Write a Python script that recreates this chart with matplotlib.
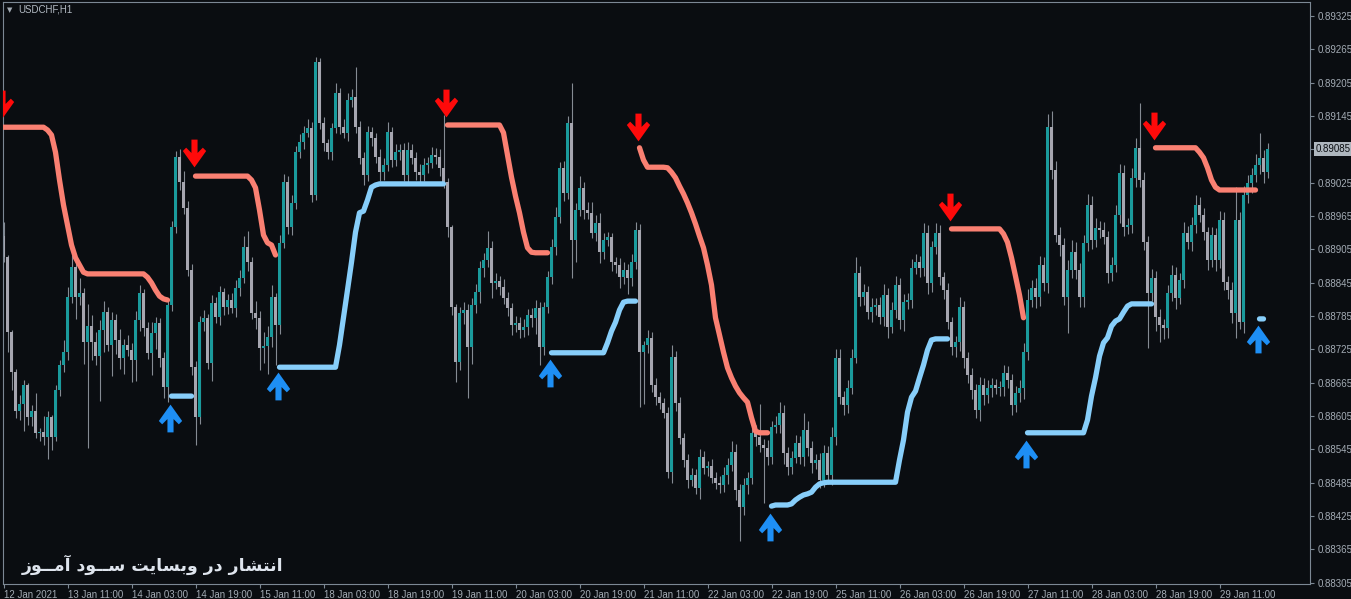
import numpy as np
import matplotlib
matplotlib.use("Agg")
import matplotlib.pyplot as plt
from matplotlib.path import Path
from matplotlib.transforms import blended_transform_factory

# prices are stored in points above 0.88000 (1 point = 0.00001)
BASE = 0.88
PT = 0.00001

open_first = 929
closes = [
    891, 756, 684, 614, 627, 661, 603, 614, 575, 576,
    567, 603, 567, 652, 697, 720, 819, 873, 819, 827,
    738, 767, 738, 713, 760, 792, 733, 778, 742, 710,
    733, 724, 706, 778, 827, 764, 719, 755, 773, 710,
    657, 805, 945, 1071, 1026, 980, 868, 693, 603, 774,
    782, 701, 809, 783, 828, 801, 814, 800, 836, 854,
    909, 882, 791, 782, 728, 731, 747, 819, 769, 917,
    1026, 945, 989, 1080, 1098, 1115, 1124, 1003, 1242, 1133,
    1097, 1080, 1124, 1187, 1125, 1115, 1174, 1179, 1125, 1070,
    1039, 1116, 1106, 1071, 1044, 1057, 1116, 1066, 1080, 1084,
    1039, 1084, 1070, 1044, 1039, 1057, 1061, 1075, 1071, 1052,
    1026, 945, 801, 702, 791, 796, 729, 805, 828, 872,
    886, 908, 845, 848, 837, 818, 800, 769, 773, 760,
    765, 787, 782, 800, 729, 801, 855, 909, 963, 1052,
    1007, 1133, 922, 976, 1016, 976, 971, 935, 953, 900,
    922, 927, 882, 877, 855, 868, 854, 882, 940, 720,
    733, 746, 661, 639, 629, 611, 504, 711, 629, 566,
    526, 490, 499, 476, 531, 512, 515, 494, 485, 481,
    499, 517, 540, 472, 441, 481, 494, 575, 567, 553,
    548, 531, 585, 589, 611, 539, 513, 530, 557, 531,
    580, 548, 521, 526, 490, 539, 499, 567, 710, 639,
    625, 656, 710, 863, 819, 828, 792, 801, 805, 783,
    823, 765, 796, 841, 778, 810, 814, 872, 882, 872,
    935, 845, 909, 935, 855, 832, 774, 729, 738, 801,
    710, 679, 652, 616, 661, 643, 656, 661, 656, 657,
    683, 670, 625, 647, 656, 720, 814, 836, 819, 877,
    845, 1125, 1048, 931, 913, 819, 868, 900, 868, 819,
    917, 985, 922, 944, 940, 927, 863, 877, 967, 1043,
    945, 949, 1034, 1088, 1030, 918, 827, 854, 783, 769,
    764, 827, 859, 818, 850, 935, 918, 949, 985, 967,
    936, 886, 931, 886, 958, 846, 832, 791, 958, 774,
    1003, 1025, 1039, 1057, 1070, 1044, 1085,
]
wick_up = [
    25, 4, 4, 6, 16, 9, 4, 11, 32, 7,
    30, 12, 4, 9, 9, 22, 18, 22, 14, 27,
    8, 40, 20, 18, 18, 20, 10, 14, 10, 20,
    10, 18, 12, 16, 14, 6, 10, 20, 10, 8,
    10, 10, 12, 12, 14, 20, 12, 10, 12, 12,
    14, 6, 14, 10, 12, 8, 10, 12, 14, 14,
    20, 30, 10, 22, 12, 26, 20, 22, 8, 14,
    14, 12, 14, 12, 14, 12, 16, 10, 9, 8,
    10, 6, 8, 18, 8, 14, 12, 14, 54, 12,
    10, 12, 10, 8, 14, 12, 18, 10, 14, 10,
    12, 14, 10, 10, 14, 12, 10, 14, 12, 14,
    95, 8, 4, 6, 10, 14, 10, 12, 14, 12,
    12, 30, 12, 14, 10, 14, 10, 8, 12, 10,
    14, 10, 12, 14, 10, 10, 12, 14, 18, 10,
    12, 12, 72, 12, 22, 10, 14, 20, 14, 18,
    12, 10, 8, 10, 12, 14, 10, 14, 15, 10,
    8, 14, 10, 12, 10, 8, 10, 22, 12, 10,
    8, 10, 12, 10, 14, 12, 10, 12, 10, 12,
    14, 12, 20, 14, 10, 12, 10, 18, 14, 60,
    10, 14, 12, 16, 20, 14, 10, 12, 14, 12,
    30, 16, 12, 10, 12, 14, 12, 18, 15, 16,
    12, 14, 16, 29, 12, 14, 12, 16, 12, 14,
    20, 12, 14, 16, 12, 14, 12, 16, 14, 12,
    18, 14, 12, 18, 14, 10, 12, 10, 12, 18,
    12, 10, 12, 10, 14, 12, 14, 12, 10, 12,
    14, 12, 10, 12, 14, 16, 20, 14, 18, 16,
    14, 23, 30, 16, 14, 12, 18, 22, 18, 12,
    14, 20, 16, 18, 12, 14, 12, 14, 18, 16,
    14, 12, 18, 18, 80, 14, 12, 16, 12, 14,
    10, 14, 18, 14, 12, 20, 12, 14, 18, 14,
    12, 10, 14, 12, 16, 14, 12, 14, 60, 14,
    16, 14, 12, 20, 45, 14, 12,
]
wick_dn = [
    9, 36, 32, 12, 16, 48, 14, 16, 10, 14,
    14, 40, 23, 6, 10, 12, 14, 10, 40, 14,
    40, 190, 32, 16, 80, 40, 10, 56, 26, 20,
    30, 10, 40, 38, 20, 14, 12, 40, 30, 16,
    20, 26, 10, 10, 14, 12, 10, 14, 50, 12,
    16, 12, 32, 10, 14, 14, 12, 10, 16, 14,
    10, 16, 12, 20, 40, 28, 50, 18, 72, 16,
    10, 12, 14, 12, 10, 12, 8, 12, 9, 12,
    14, 12, 14, 10, 12, 10, 14, 12, 10, 12,
    18, 10, 14, 10, 16, 14, 10, 12, 10, 14,
    10, 14, 12, 14, 12, 10, 14, 10, 12, 14,
    10, 18, 14, 36, 14, 20, 92, 30, 14, 20,
    16, 12, 28, 12, 14, 12, 14, 18, 12, 14,
    12, 14, 16, 30, 32, 14, 10, 12, 14, 10,
    14, 12, 68, 40, 10, 16, 12, 10, 14, 20,
    12, 10, 16, 14, 20, 12, 30, 14, 12, 99,
    94, 14, 12, 14, 12, 10, 10, 20, 14, 12,
    12, 14, 10, 12, 20, 12, 14, 10, 12, 14,
    12, 16, 10, 18, 60, 14, 16, 12, 16, 12,
    100, 14, 12, 10, 14, 20, 14, 12, 10, 12,
    16, 14, 18, 12, 14, 12, 16, 18, 14, 12,
    18, 14, 12, 10, 16, 14, 12, 18, 14, 12,
    16, 20, 10, 14, 16, 20, 12, 14, 12, 16,
    14, 20, 16, 12, 14, 16, 12, 14, 18, 16,
    18, 14, 16, 15, 20, 18, 14, 16, 12, 14,
    16, 14, 18, 12, 16, 20, 14, 12, 20, 16,
    14, 18, 16, 12, 20, 14, 65, 14, 16, 18,
    18, 14, 16, 12, 14, 12, 18, 14, 12, 14,
    16, 12, 14, 16, 12, 14, 100, 14, 24, 30,
    20, 18, 14, 20, 12, 14, 12, 16, 14, 12,
    14, 18, 12, 20, 14, 14, 16, 18, 45, 12,
    20, 14, 18, 12, 16, 20, 10,
]

# trailing stop lines: (first bar, values)
red_segments = [
    (0, [1125, 1125, 1125, 1125, 1125, 1125, 1125, 1125, 1125, 1125, 1125,
         1120, 1111, 1080, 1030, 985, 949, 913, 890, 877, 864, 861,
         861, 861, 861, 861, 861, 861, 861, 861, 861, 861, 861, 861, 861, 861,
         855, 845, 832, 821, 816, 814]),
    (48, [1037, 1037, 1037, 1037, 1037, 1037, 1037, 1037, 1037, 1037, 1037, 1037, 1037, 1037,
          1030, 1016, 976, 931, 917, 913, 895]),
    (111, [1129, 1129, 1129, 1129, 1129, 1129, 1129, 1129, 1129, 1129, 1129, 1129, 1129, 1129,
           1115, 1075, 1035, 1001, 971, 936, 908, 900, 899, 899, 899, 899]),
    (159, [1088, 1066, 1053, 1053, 1053, 1053, 1053, 1052, 1044, 1034, 1019, 1005, 989, 971,
           951, 929, 908, 877, 841, 782, 751, 720, 692, 674, 659, 647, 638, 630, 602, 578,
           575, 575, 575]),
    (237, [942, 942, 942, 942, 942, 942, 942, 942, 942, 942, 942, 942, 942,
           933, 918, 890, 857, 823, 782]),
    (288, [1088, 1088, 1088, 1088, 1088, 1088, 1088, 1088, 1088, 1088, 1088,
           1080, 1070, 1052, 1030, 1017,
           1012, 1012, 1012, 1012, 1012, 1012, 1012, 1012, 1012, 1012]),
]
blue_segments = [
    (42, [641, 641, 641, 641, 641, 641]),
    (69, [693, 693, 693, 693, 693, 693, 693, 693, 693, 693, 693, 693, 693, 693, 693,
          733, 782, 832, 882, 936, 971, 974, 994, 1017, 1021,
          1023, 1023, 1023, 1023, 1023, 1023, 1023, 1023, 1023, 1023, 1023, 1023, 1023,
          1023, 1023, 1023, 1023]),
    (137, [719, 719, 719, 719, 719, 719, 719, 719, 719, 719, 719, 719, 719, 719,
           737, 758, 774, 796, 810, 812, 812, 812]),
    (192, [443, 445, 445, 445, 445, 447, 454, 459, 463, 465, 468, 477, 483, 485,
           486, 486, 486, 486, 486, 486, 486, 486, 486, 486, 486, 486, 486, 486, 486,
           486, 486, 486,
           526, 562, 612, 639, 650, 674, 697, 724, 742, 744, 744, 744, 744]),
    (256, [575, 575, 575, 575, 575, 575, 575, 575, 575, 575, 575, 575, 575, 575, 575,
           598, 641, 674, 713, 737, 746, 767, 776, 780, 792, 803, 807,
           807, 807, 807, 807, 807]),
    (314, [780, 780]),
]

sell_bars = [0, 48, 111, 159, 237, 288]
sell_levels = [1167, 1079, 1169, 1125, 981, 1127]
buy_bars = [42, 69, 137, 192, 256, 314]
buy_levels = [602, 659, 683, 405, 537, 744]

tick_bars = list(range(0, 305, 16))
tick_labels = ["12 Jan 2021", "13 Jan 11:00", "14 Jan 03:00", "14 Jan 19:00", "15 Jan 11:00",
               "18 Jan 03:00", "18 Jan 19:00", "19 Jan 11:00", "20 Jan 03:00", "20 Jan 19:00",
               "21 Jan 11:00", "22 Jan 03:00", "22 Jan 19:00", "25 Jan 11:00", "26 Jan 03:00",
               "26 Jan 19:00", "27 Jan 11:00", "28 Jan 03:00", "28 Jan 19:00", "29 Jan 11:00"]
price_ticks = [0.88305 + 0.0006 * k for k in range(18)]

# Persian watermark, glyphs already joined and ordered for left-to-right drawing
watermark = ("\ufeaf\ufeee\u0640\u0640\ufee3\ufe81 \ufea9\ufeee\u0640\u0640\ufeb3 "
             "\ufe96\ufef3\ufe8e\ufeb4\ufe91\ufeed \ufead\ufea9 \ufead\ufe8e\ufeb8\ufe98\ufee7\ufe8d")

BG = "#0a0d11"
FRAME = "#7c8894"
TXT = "#a3abb4"
UPC = "#1a9a9c"
DNC = "#a6a6b0"

n = len(closes)
x = np.arange(n)
c = BASE + np.array(closes) * PT
o = BASE + np.array([open_first] + closes[:-1]) * PT
top = np.maximum(o, c)
bot = np.minimum(o, c)
hi = top + np.array(wick_up) * PT
lo = bot - np.array(wick_dn) * PT

red = np.full(n, np.nan)
for s, vals in red_segments:
    red[s:s + len(vals)] = BASE + np.array(vals) * PT
blue = np.full(n, np.nan)
for s, vals in blue_segments:
    blue[s:s + len(vals)] = BASE + np.array(vals) * PT

fig = plt.figure(figsize=(13.51, 5.99), dpi=100, facecolor=BG)
ax = fig.add_axes([3 / 1351, 15 / 599, 1307 / 1351, 582 / 599], facecolor=BG)

ax.vlines(x, lo, hi, colors="#858b93", linewidth=0.8, zorder=1)
body = np.maximum(top - bot, 1.5 * PT)
cols = [UPC if cc >= oo else DNC for oo, cc in zip(o, c)]
ax.bar(x, body, bottom=bot, width=0.72, color=cols, linewidth=0, zorder=2)

ax.plot(x, red, color="#fa8072", lw=3.8, solid_capstyle="round", solid_joinstyle="round", zorder=3)
ax.plot(x, blue, color="#87cefa", lw=3.8, solid_capstyle="round", solid_joinstyle="round", zorder=3)

down = Path([(-0.11, 0.5), (0.11, 0.5), (0.11, 0.02), (0.3, 0.21), (0.42, 0.09), (0, -0.5),
             (-0.42, 0.09), (-0.3, 0.21), (-0.11, 0.02), (-0.11, 0.5)], closed=True)
up = Path([(px, -py) for px, py in down.vertices], closed=True)
ax.plot(np.array(sell_bars) - 0.4, BASE + np.array(sell_levels) * PT, ls="none",
        marker=down, ms=20, color="#ff0a0a", mew=0, zorder=4)
ax.plot(np.array(buy_bars) - 0.4, BASE + np.array(buy_levels) * PT, ls="none",
        marker=up, ms=20, color="#1e8ff5", mew=0, zorder=4)

ax.set_xlim(-0.125, 326.625)
ax.set_ylim(BASE + 302.8 * PT, BASE + 1350.4 * PT)

for sp in ax.spines.values():
    sp.set_color(FRAME)
    sp.set_linewidth(0.8)

ax.yaxis.tick_right()
ax.set_yticks(price_ticks)
ax.set_yticklabels(["%.5f" % p for p in price_ticks])
ax.set_xticks(tick_bars)
ax.set_xticklabels(tick_labels, ha="left")
ax.tick_params(axis="both", colors=FRAME, length=3, width=0.8, labelsize=7, labelcolor=TXT)
ax.tick_params(axis="y", pad=2.5)
ax.tick_params(axis="x", pad=1.2)
for lab in ax.get_xticklabels() + ax.get_yticklabels():
    lab.set_family("Liberation Sans")

# current price box
tr = blended_transform_factory(ax.transAxes, ax.transData)
ax.text(1.0 + 6 / 1307, c[-1], "%.5f" % c[-1], transform=tr, ha="left", va="center",
        fontsize=7, family="Liberation Sans", color="#0a0d11", clip_on=False, zorder=6,
        bbox=dict(boxstyle="square,pad=0.2", fc="#aeb6be", ec="none"))

fig.text(7 / 1351, 1 - 10 / 599, "\u25bc", fontsize=5, color=TXT, va="center", ha="left")
fig.text(18 / 1351, 1 - 10 / 599, "USDCHF,H1", fontsize=7, color="#b2bac3", va="center",
         ha="left", family="Liberation Sans")
fig.text(22 / 1351, 1 - 571 / 599, watermark, fontsize=12.5, weight="bold", color="#dfe5ee",
         family="DejaVu Sans", ha="left", va="baseline")

fig.savefig("out.png", dpi=100, facecolor=BG)
